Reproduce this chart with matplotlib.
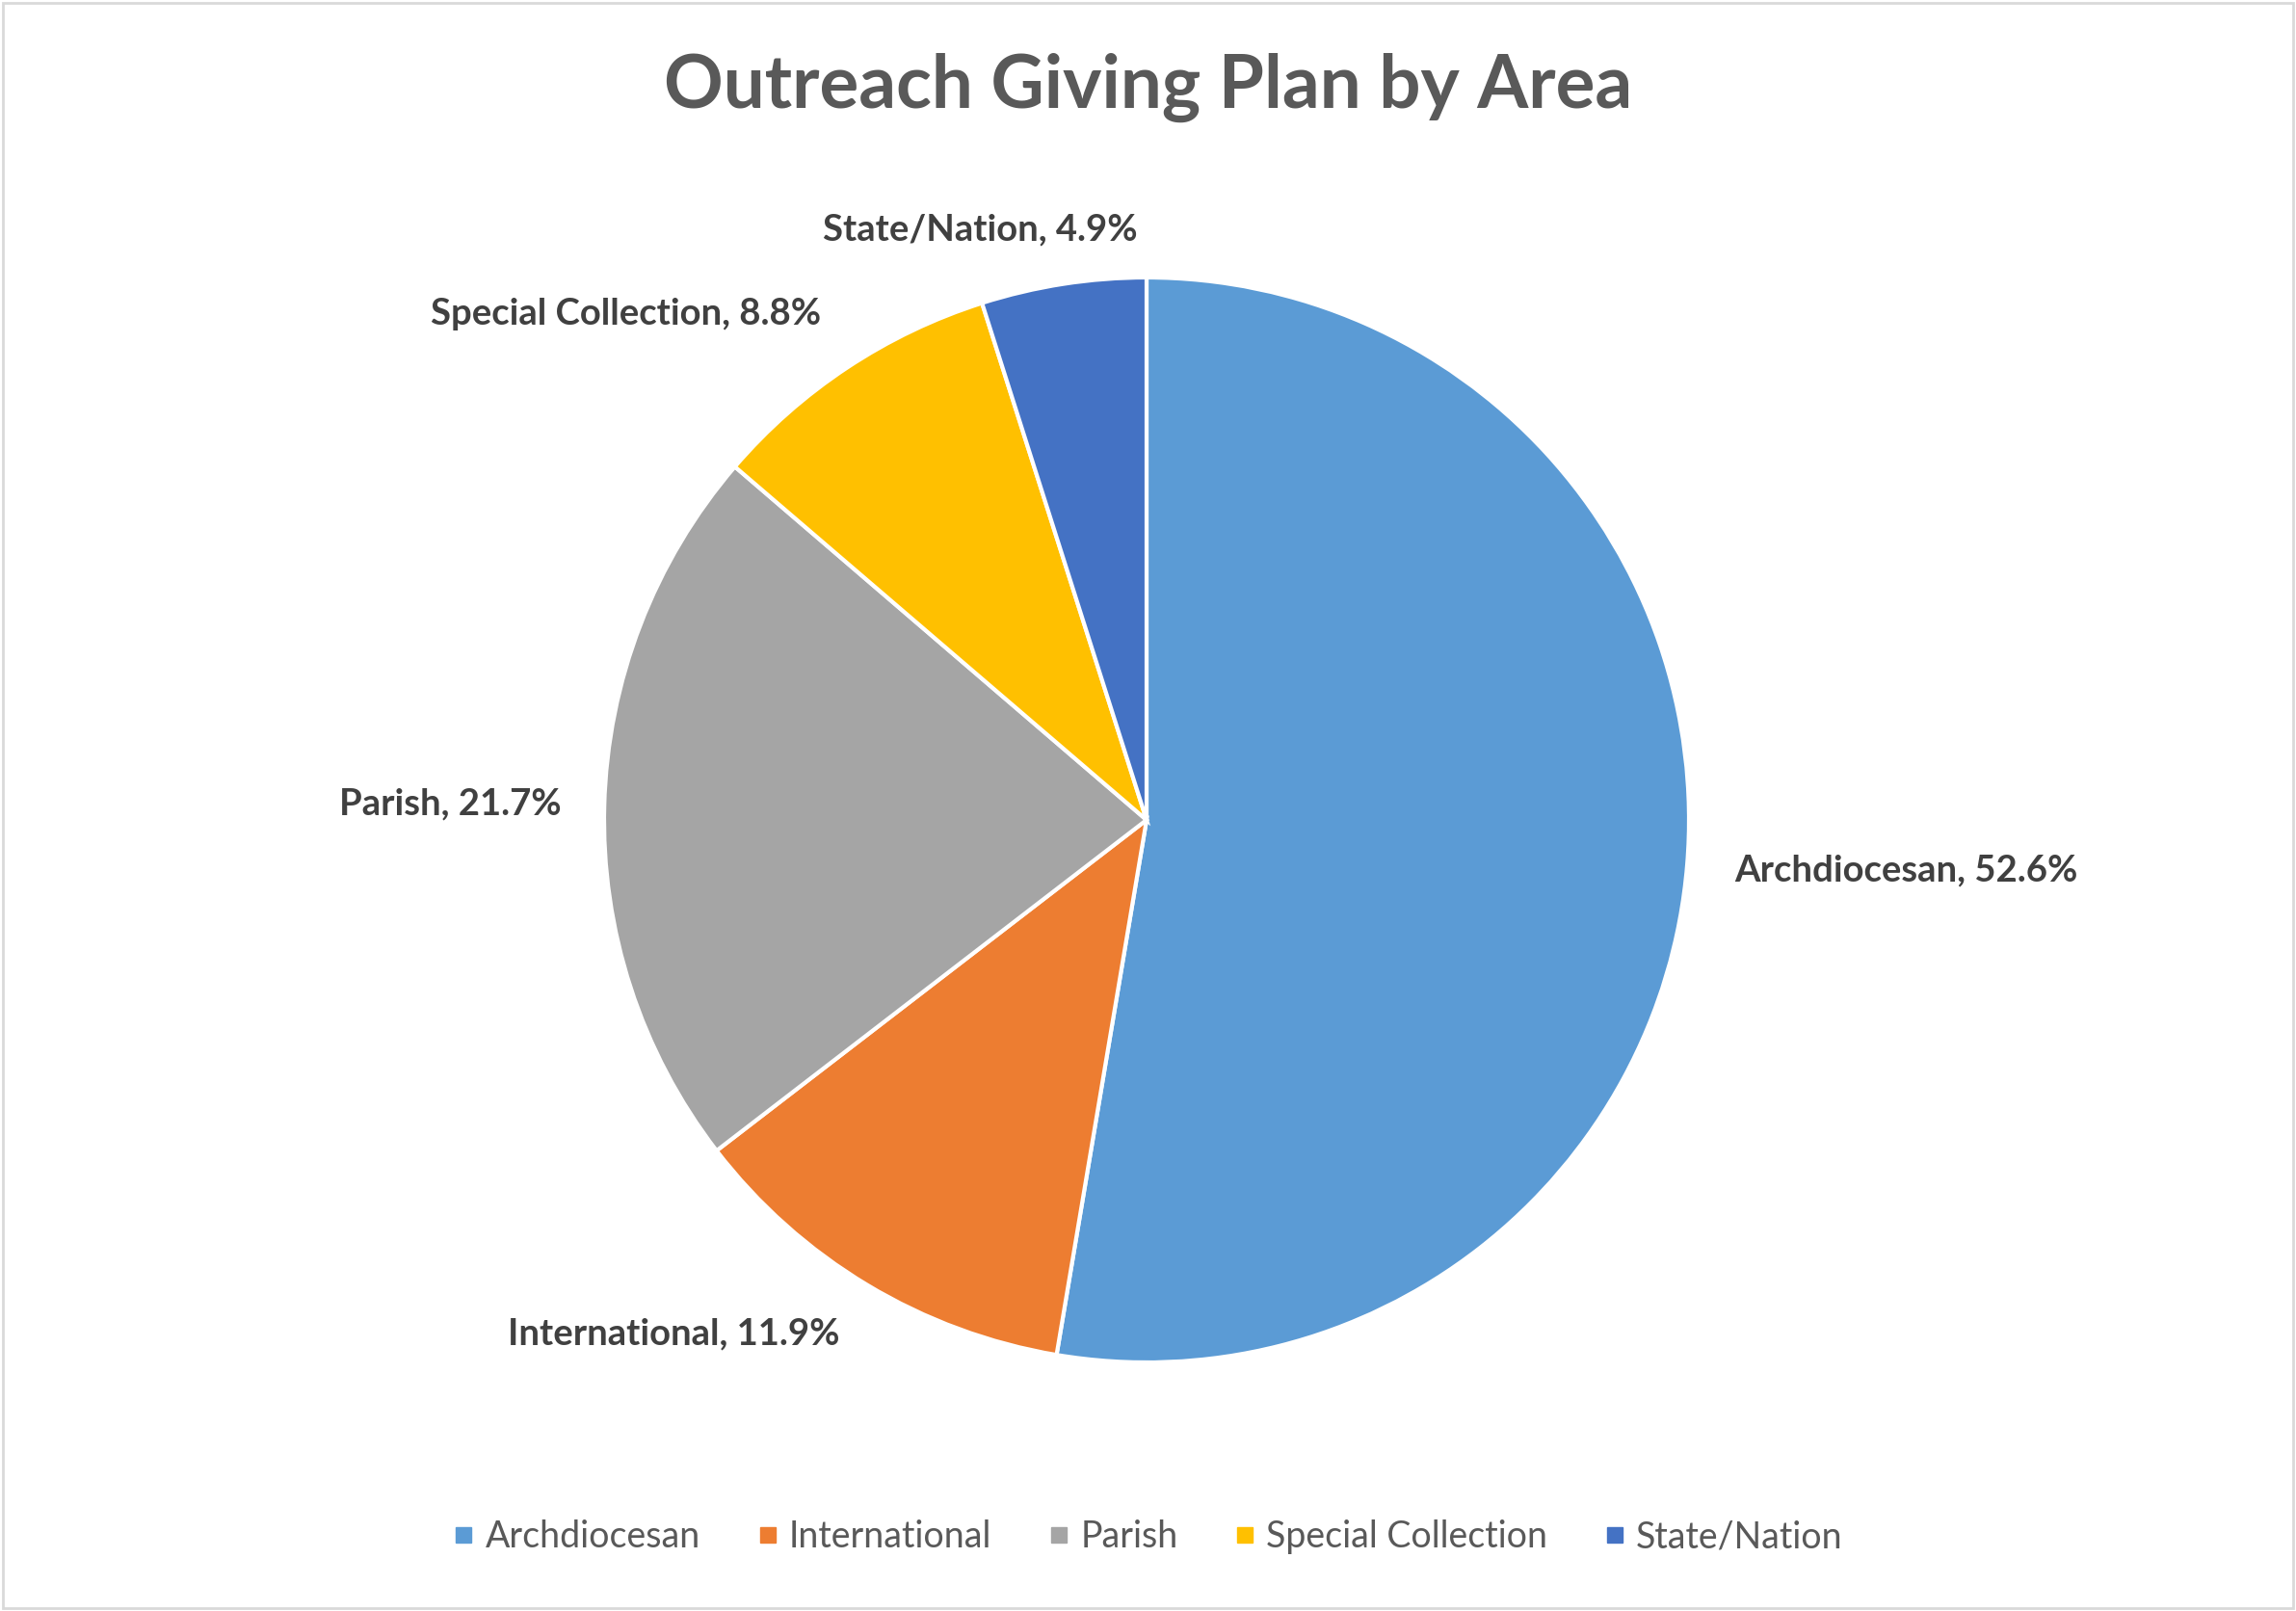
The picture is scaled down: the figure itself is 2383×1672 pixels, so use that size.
import numpy as np
import matplotlib
matplotlib.use("Agg")
import matplotlib.pyplot as plt
from matplotlib.patches import Rectangle
from matplotlib.lines import Line2D

categories = ["Archdiocesan", "International", "Parish", "Special Collection", "State/Nation"]
shares = [52.6, 11.9, 21.7, 8.8, 4.9]
colors = ["#5B9BD5", "#ED7D31", "#A5A5A5", "#FFC000", "#4472C4"]
title = "Outreach Giving Plan by Area"

W, H = 2383, 1672
fig = plt.figure(figsize=(W / 100, H / 100), dpi=100)
fig.patch.set_facecolor("white")

# border
fig.add_artist(Rectangle((3 / W, 3 / H), 1 - 6 / W, 1 - 6 / H, transform=fig.transFigure,
                         fill=False, edgecolor="#D9D9D9", linewidth=2))

cx, cy, R = 1190, 851, 563
ax = fig.add_axes([(cx - R) / W, 1 - (cy + R) / H, 2 * R / W, 2 * R / H])
wedges, _ = ax.pie(shares, colors=colors, startangle=90, counterclock=False,
                   wedgeprops=dict(edgecolor="white", linewidth=3), radius=1.0)
ax.set_xlim(-1, 1)
ax.set_ylim(-1, 1)
ax.set_aspect("equal")
ax.axis("off")

fam = ["Lato", "DejaVu Sans"]
# label alignment/offsets (layout only)
aligns = [("left", "center", 7, -2), ("right", "top", -6, 0), ("right", "center", -4, 0),
          ("right", "bottom", -4, 4), ("center", "bottom", -58, 0)]
for w, cat, v, (ha, va, ox, oy) in zip(wedges, categories, shares, aligns):
    ang = np.deg2rad((w.theta1 + w.theta2) / 2)
    r = 1.07
    ax.annotate(f"{cat}, {v:.1f}%",
                xy=(r * np.cos(ang), r * np.sin(ang)), xytext=(ox, oy),
                textcoords="offset points", ha=ha, va=va, fontsize=27.5,
                fontweight="bold", color="#404040", family=fam, annotation_clip=False)

fig.text(0.5, 1 - 91 / H, title, ha="center", va="center", fontsize=55,
         fontweight="bold", color="#595959", family=fam)

handles = [Line2D([], [], marker="s", linestyle="none", markersize=11,
                  markerfacecolor=c, markeredgecolor=c) for c in colors]
fig.legend(handles, categories, loc="center", bbox_to_anchor=(0.5, 1 - 1595 / H),
           ncol=5, frameon=False, prop=dict(family=fam, size=27),
           labelcolor="#595959", handletextpad=0.3, columnspacing=1.55, handlelength=0.6)

fig.savefig("out.png", dpi=100, facecolor="white")
